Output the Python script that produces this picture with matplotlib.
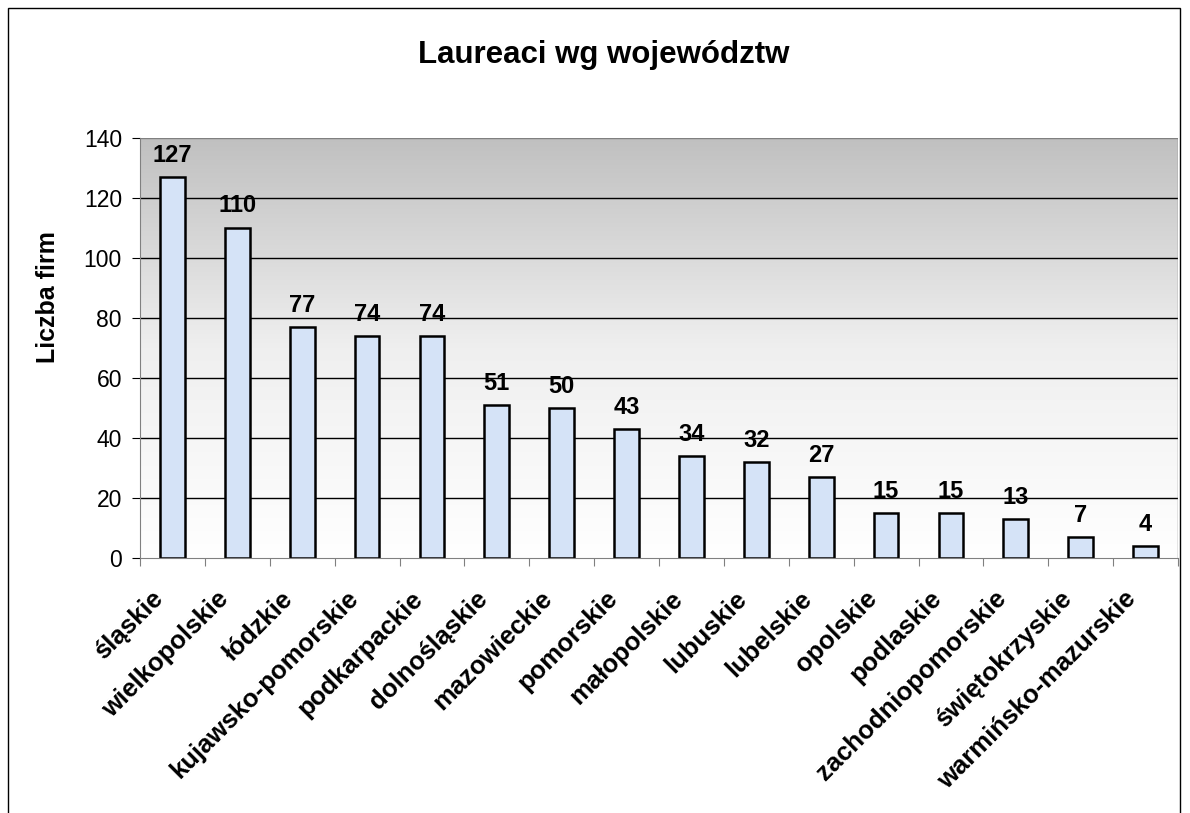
import matplotlib
matplotlib.use("Agg")
import matplotlib.pyplot as plt
import numpy as np
from matplotlib.patches import Rectangle
from matplotlib.colors import LinearSegmentedColormap

categories = ["śląskie", "wielkopolskie", "łódzkie", "kujawsko-pomorskie", "podkarpackie",
              "dolnośląskie", "mazowieckie", "pomorskie", "małopolskie", "lubuskie",
              "lubelskie", "opolskie", "podlaskie", "zachodniopomorskie", "świętokrzyskie",
              "warmińsko-mazurskie"]
values = [127, 110, 77, 74, 74, 51, 50, 43, 34, 32, 27, 15, 15, 13, 7, 4]
yticks = [0, 20, 40, 60, 80, 100, 120, 140]

plt.rcParams['font.family'] = ['Liberation Sans', 'DejaVu Sans']

fig = plt.figure(figsize=(11.9, 8.13), dpi=100)
ax = fig.add_axes([140/1190, 1 - 558/813, 1038/1190, 420/813])

# gradient background
grad = np.linspace(0, 1, 256).reshape(-1, 1)
cmap = LinearSegmentedColormap.from_list("bg", ["#ffffff", "#efefef", "#c0c0c0"])
n = len(categories)
ax.imshow(grad, aspect='auto', cmap=cmap, extent=[-0.5, n - 0.5, 0, 140], origin='lower', zorder=0)

x = np.arange(n)
for yv in yticks[1:-1]:
    ax.axhline(yv, color='black', lw=1.0, zorder=1)
ax.axhline(140, color='#808080', lw=1.0, zorder=1)

ax.bar(x, values, width=0.38, color='#d5e3f7', edgecolor='black', linewidth=1.8, zorder=2)
for xi, v in zip(x, values):
    ax.text(xi, v + 3.5, str(v), ha='center', va='bottom', fontsize=17, fontweight='bold',
            zorder=3, clip_on=False)

ax.set_xlim(-0.5, n - 0.5)
ax.set_ylim(0, 140)
ax.set_yticks(yticks)
ax.set_yticklabels([str(t) for t in yticks], fontsize=16.5)
ax.set_xticks(np.arange(n + 1) - 0.5)
ax.set_xticklabels([])
ax.tick_params(axis='x', length=6, color='#808080', direction='out')
ax.tick_params(axis='y', length=6, color='black', direction='out', pad=7)
for xi, c in zip(x, categories):
    ax.text(xi - 0.33, -9.5, c, rotation=45, ha='right', va='top', rotation_mode='anchor',
            fontsize=18.5, fontweight='bold', transform=ax.transData, clip_on=False)

for s in ['top', 'right']:
    ax.spines[s].set_visible(False)
ax.spines['left'].set_color('#808080')
ax.spines['bottom'].set_color('#808080')
ax.plot([n - 0.5, n - 0.5], [0, 140], color='#808080', lw=1.0, zorder=1)

fig.text(48/1190, 1 - 297/813, "Liczba firm", rotation=90, ha='center', va='center',
         fontsize=18, fontweight='bold')
fig.text(604/1190, 1 - 55/813, "Laureaci wg województw", ha='center', va='center',
         fontsize=22.5, fontweight='bold')

# figure border
fig.add_artist(Rectangle((8/1190, -0.01), 1172/1190, 1 - 8/813 + 0.01, transform=fig.transFigure,
                         fill=False, edgecolor='black', lw=1.0))

fig.savefig("out.png", dpi=100)
